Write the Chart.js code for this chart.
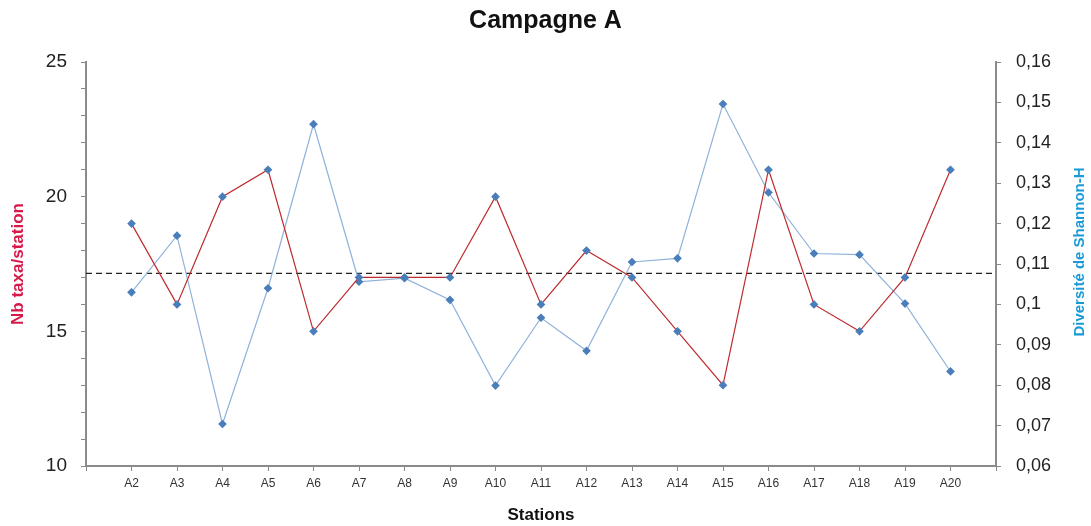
<!DOCTYPE html>
<html>
<head>
<meta charset="utf-8">
<title>Campagne A</title>
<script src="https://cdn.jsdelivr.net/npm/chart.js@4/dist/chart.umd.min.js"></script>
<style>
  html, body { margin: 0; padding: 0; background: #fff; }
  #box { width: 1091px; height: 526px; }
</style>
</head>
<body>
<div id="box"><canvas id="myChart"></canvas></div>
<script>
// stations (x axis)
var stations = ['A2','A3','A4','A5','A6','A7','A8','A9','A10','A11','A12','A13','A14','A15','A16','A17','A18','A19','A20'];
// Nb taxa/station (left axis)
var nbTaxa = [19, 16, 20, 21, 15, 17, 17, 17, 20, 16, 18, 17, 15, 13, 21, 16, 15, 17, 21];
// Diversite de Shannon-H (right axis)
var shannon = [0.103, 0.117, 0.0704, 0.104, 0.1446, 0.1056, 0.1065, 0.1011, 0.0799, 0.0967, 0.0885, 0.1105, 0.1114, 0.1496, 0.1277, 0.1126, 0.1123, 0.1002, 0.0834];
// dashed reference line (left axis value)
var ligneRef = [17.15];

var axisGrey = '#8a8a8a';
var fontName = '"Liberation Sans", Arial, sans-serif';

// draw the right-hand title bottom-to-top, like the original
var titreDroite = {
    id: 'titreDroite',
    afterDraw: function (chart) {
        var ctx = chart.ctx;
        var a = chart.chartArea;
        ctx.save();
        ctx.translate(1080, 252);
        ctx.rotate(-Math.PI / 2);
        ctx.font = 'bold 15px ' + fontName;
        ctx.fillStyle = '#1a9ad6';
        ctx.textAlign = 'center';
        ctx.textBaseline = 'middle';
        ctx.fillText('Diversité de Shannon-H', 0, 0);
        ctx.restore();
    }
};

var ctx = document.getElementById('myChart').getContext('2d');
var chart = new Chart(ctx, {
    type: 'line',
    data: {
        datasets: [{
            label: 'Nb taxa',
            data: nbTaxa.map(function (v, i) { return { x: i + 1, y: v }; }),
            yAxisID: 'y',
            borderColor: '#bd2a2e',
            borderWidth: 1.2,
            pointStyle: 'rectRot',
            pointRadius: 3.5,
            pointBackgroundColor: '#4a7ebb',
            pointBorderColor: '#4a7ebb',
            tension: 0
        }, {
            label: 'Shannon',
            data: shannon.map(function (v, i) { return { x: i + 1, y: v }; }),
            yAxisID: 'y1',
            borderColor: '#8fb2da',
            borderWidth: 1.2,
            pointStyle: 'rectRot',
            pointRadius: 3.5,
            pointBackgroundColor: '#4a7ebb',
            pointBorderColor: '#4a7ebb',
            tension: 0
        }, {
            label: 'ref',
            data: [{ x: 0, y: ligneRef[0] }, { x: stations.length + 1, y: ligneRef[0] }],
            yAxisID: 'y',
            borderColor: '#222',
            borderWidth: 1.3,
            borderDash: [6, 4],
            pointRadius: 0
        }]
    },
    options: {
        responsive: true,
        maintainAspectRatio: false,
        animation: false,
        layout: { padding: { top: 0, left: 0, right: 0, bottom: 0 } },
        plugins: {
            legend: { display: false },
            tooltip: { enabled: false },
            title: {
                display: true,
                text: 'Campagne A',
                color: '#111',
                font: { family: fontName, size: 25, weight: 'bold' },
                padding: { top: 6, bottom: 26 }
            }
        },
        scales: {
            x: {
                type: 'linear',
                min: 0,
                max: stations.length + 1,
                afterFit: function (s) { s.height = 60; },
                ticks: {
                    stepSize: 1,
                    autoSkip: false,
                    maxRotation: 0,
                    color: '#333',
                    font: { family: fontName, size: 12 },
                    padding: 5,
                    callback: function (v) { return stations[v - 1] || ''; }
                },
                grid: { drawOnChartArea: false, drawTicks: true, tickLength: 5, color: axisGrey },
                border: { display: true, color: axisGrey, width: 2 },
                title: {
                    display: true,
                    text: 'Stations',
                    color: '#111',
                    font: { family: fontName, size: 17, weight: 'bold' },
                    padding: { top: 3, bottom: 0 }
                }
            },
            y: {
                position: 'left',
                min: 10,
                max: 25,
                afterFit: function (s) { s.width = 86; },
                ticks: {
                    stepSize: 1,
                    color: '#222',
                    font: { family: fontName, size: 19 },
                    padding: 14,
                    callback: function (v) { return v % 5 === 0 ? v : ''; }
                },
                grid: { drawOnChartArea: false, drawTicks: true, tickLength: 5, color: axisGrey },
                border: { display: true, color: axisGrey, width: 2 },
                title: {
                    display: true,
                    text: 'Nb taxa/station',
                    color: '#d81a4a',
                    font: { family: fontName, size: 17, weight: 'bold' },
                    padding: { top: 8, bottom: 0 }
                }
            },
            y1: {
                position: 'right',
                min: 0.06,
                max: 0.16,
                afterFit: function (s) { s.width = 95; },
                ticks: {
                    stepSize: 0.01,
                    color: '#222',
                    font: { family: fontName, size: 18 },
                    padding: 15,
                    callback: function (v) { return String(Math.round(v * 100) / 100).replace('.', ','); }
                },
                grid: { drawOnChartArea: false, drawTicks: true, tickLength: 5, color: axisGrey },
                border: { display: true, color: axisGrey, width: 2 }
            }
        }
    },
    plugins: [titreDroite]
});
</script>
</body>
</html>
